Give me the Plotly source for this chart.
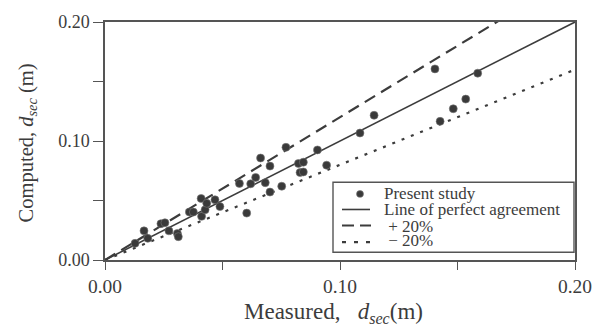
import plotly.graph_objects as go

# Measured vs computed scour depth d_sec (m)
measured = [0.0128, 0.0166, 0.0182, 0.0238, 0.0255, 0.0272, 0.0308, 0.0312,
            0.0359, 0.0376, 0.0409, 0.0411, 0.0426, 0.0433, 0.0468, 0.0489,
            0.0572, 0.0603, 0.0620, 0.0641, 0.0662, 0.0682, 0.0702, 0.0702,
            0.0752, 0.0770, 0.0823, 0.0844, 0.0830, 0.0844, 0.0904, 0.0943,
            0.1085, 0.1145, 0.1404, 0.1426, 0.1482, 0.1535, 0.1586]
computed = [0.0140, 0.0245, 0.0182, 0.0305, 0.0313, 0.0245, 0.0223, 0.0196,
            0.0403, 0.0403, 0.0517, 0.0367, 0.0422, 0.0476, 0.0506, 0.0449,
            0.0643, 0.0394, 0.0640, 0.0694, 0.0857, 0.0650, 0.0789, 0.0571,
            0.0620, 0.0947, 0.0811, 0.0822, 0.0735, 0.0740, 0.0925, 0.0797,
            0.1067, 0.1216, 0.1606, 0.1165, 0.1271, 0.1352, 0.1570]

line_x = [0.0, 0.20]
ratio_perfect = 1.0
ratio_upper = 1.2
ratio_lower = 0.8

major_ticks = [0.0, 0.10, 0.20]
major_text = ["0.00", "0.10", "0.20"]
minor_ticks = [0.05, 0.15]

legend_labels = ["Present study", "Line of perfect agreement", " + 20%", " \u2212 20%"]

FONT = "Liberation Serif"
INK = "#3c3c3c"
AXIS = "#555555"

# plot area in pixels
L, R, T, B = 105, 575, 15, 260


def px(x):
    return (x - L) / (R - L)


def py(y):
    return (B - y) / (B - T)


fig = go.Figure()

fig.add_trace(go.Scatter(
    x=line_x, y=[v * ratio_upper for v in line_x], mode="lines",
    line=dict(color=INK, width=2.2, dash="12px,7px"), showlegend=False))
fig.add_trace(go.Scatter(
    x=line_x, y=[v * ratio_lower for v in line_x], mode="lines",
    line=dict(color=INK, width=2.2, dash="3px,7px"), showlegend=False))
fig.add_trace(go.Scatter(
    x=line_x, y=[v * ratio_perfect for v in line_x], mode="lines",
    line=dict(color=INK, width=1.6), showlegend=False))
fig.add_trace(go.Scatter(
    x=measured, y=computed, mode="markers",
    marker=dict(size=8, color="#3a3a3a",
                line=dict(width=0.6, color="#777777")),
    showlegend=False))

shapes = []
annotations = []

# legend box
shapes.append(dict(type="rect", xref="paper", yref="paper",
                   x0=px(333), x1=px(574), y0=py(252), y1=py(180),
                   line=dict(color=AXIS, width=1.4), fillcolor="white",
                   layer="above"))
# legend samples
shapes.append(dict(type="circle", xref="paper", yref="paper",
                   x0=px(356.5), x1=px(363.5), y0=py(195.5), y1=py(188.5),
                   fillcolor="#3a3a3a", line=dict(color="#777777", width=0.6),
                   layer="above"))
shapes.append(dict(type="line", xref="paper", yref="paper",
                   x0=px(342), x1=px(370), y0=py(208), y1=py(208),
                   line=dict(color=INK, width=1.6), layer="above"))
shapes.append(dict(type="line", xref="paper", yref="paper",
                   x0=px(342), x1=px(371), y0=py(224.5), y1=py(224.5),
                   line=dict(color=INK, width=2.2, dash="12px,6px"),
                   layer="above"))
shapes.append(dict(type="line", xref="paper", yref="paper",
                   x0=px(342), x1=px(370), y0=py(241.5), y1=py(241.5),
                   line=dict(color=INK, width=2.2, dash="4px,8px"),
                   layer="above"))

for label, yc in zip(legend_labels, [192, 208.5, 225, 240]):
    annotations.append(dict(
        text=label, xref="paper", yref="paper", x=px(382), y=py(yc),
        xanchor="left", yanchor="middle", showarrow=False,
        font=dict(family=FONT, size=17, color=INK)))

# axis titles
annotations.append(dict(
    text="Measured,&nbsp;&nbsp;&nbsp;<i>d<sub>sec</sub></i>(m)",
    xref="paper", yref="paper",
    x=px(333), y=py(315), xanchor="center", yanchor="middle",
    showarrow=False, font=dict(family=FONT, size=23, color=INK)))
annotations.append(dict(
    text="Computed, <i>d<sub>sec</sub></i> (m)", xref="paper", yref="paper",
    x=px(27), y=py(140), xanchor="center", yanchor="middle", textangle=-90,
    showarrow=False, font=dict(family=FONT, size=20.5, color=INK)))

axis_common = dict(
    range=[0, 0.20], tickvals=major_ticks, ticktext=major_text,
    showgrid=False, zeroline=False, showline=True, mirror=True,
    linecolor=AXIS, linewidth=1.5, ticks="outside", tickcolor=AXIS,
    tickwidth=1.4,
)

fig.update_layout(
    width=609, height=330,
    margin=dict(l=L, r=609 - R, t=T, b=330 - B),
    paper_bgcolor="white", plot_bgcolor="white",
    xaxis=dict(**axis_common, ticklen=8,
               tickfont=dict(family=FONT, size=19.5, color=INK),
               minor=dict(tickvals=minor_ticks, ticks="outside", ticklen=8,
                          tickwidth=1.4, tickcolor=AXIS, showgrid=False)),
    yaxis=dict(**axis_common, ticklen=10,
               tickfont=dict(family=FONT, size=18, color=INK),
               minor=dict(tickvals=minor_ticks, ticks="outside", ticklen=10,
                          tickwidth=1.4, tickcolor=AXIS, showgrid=False)),
    shapes=shapes, annotations=annotations,
    showlegend=False,
)

fig.write_html("out.html")
